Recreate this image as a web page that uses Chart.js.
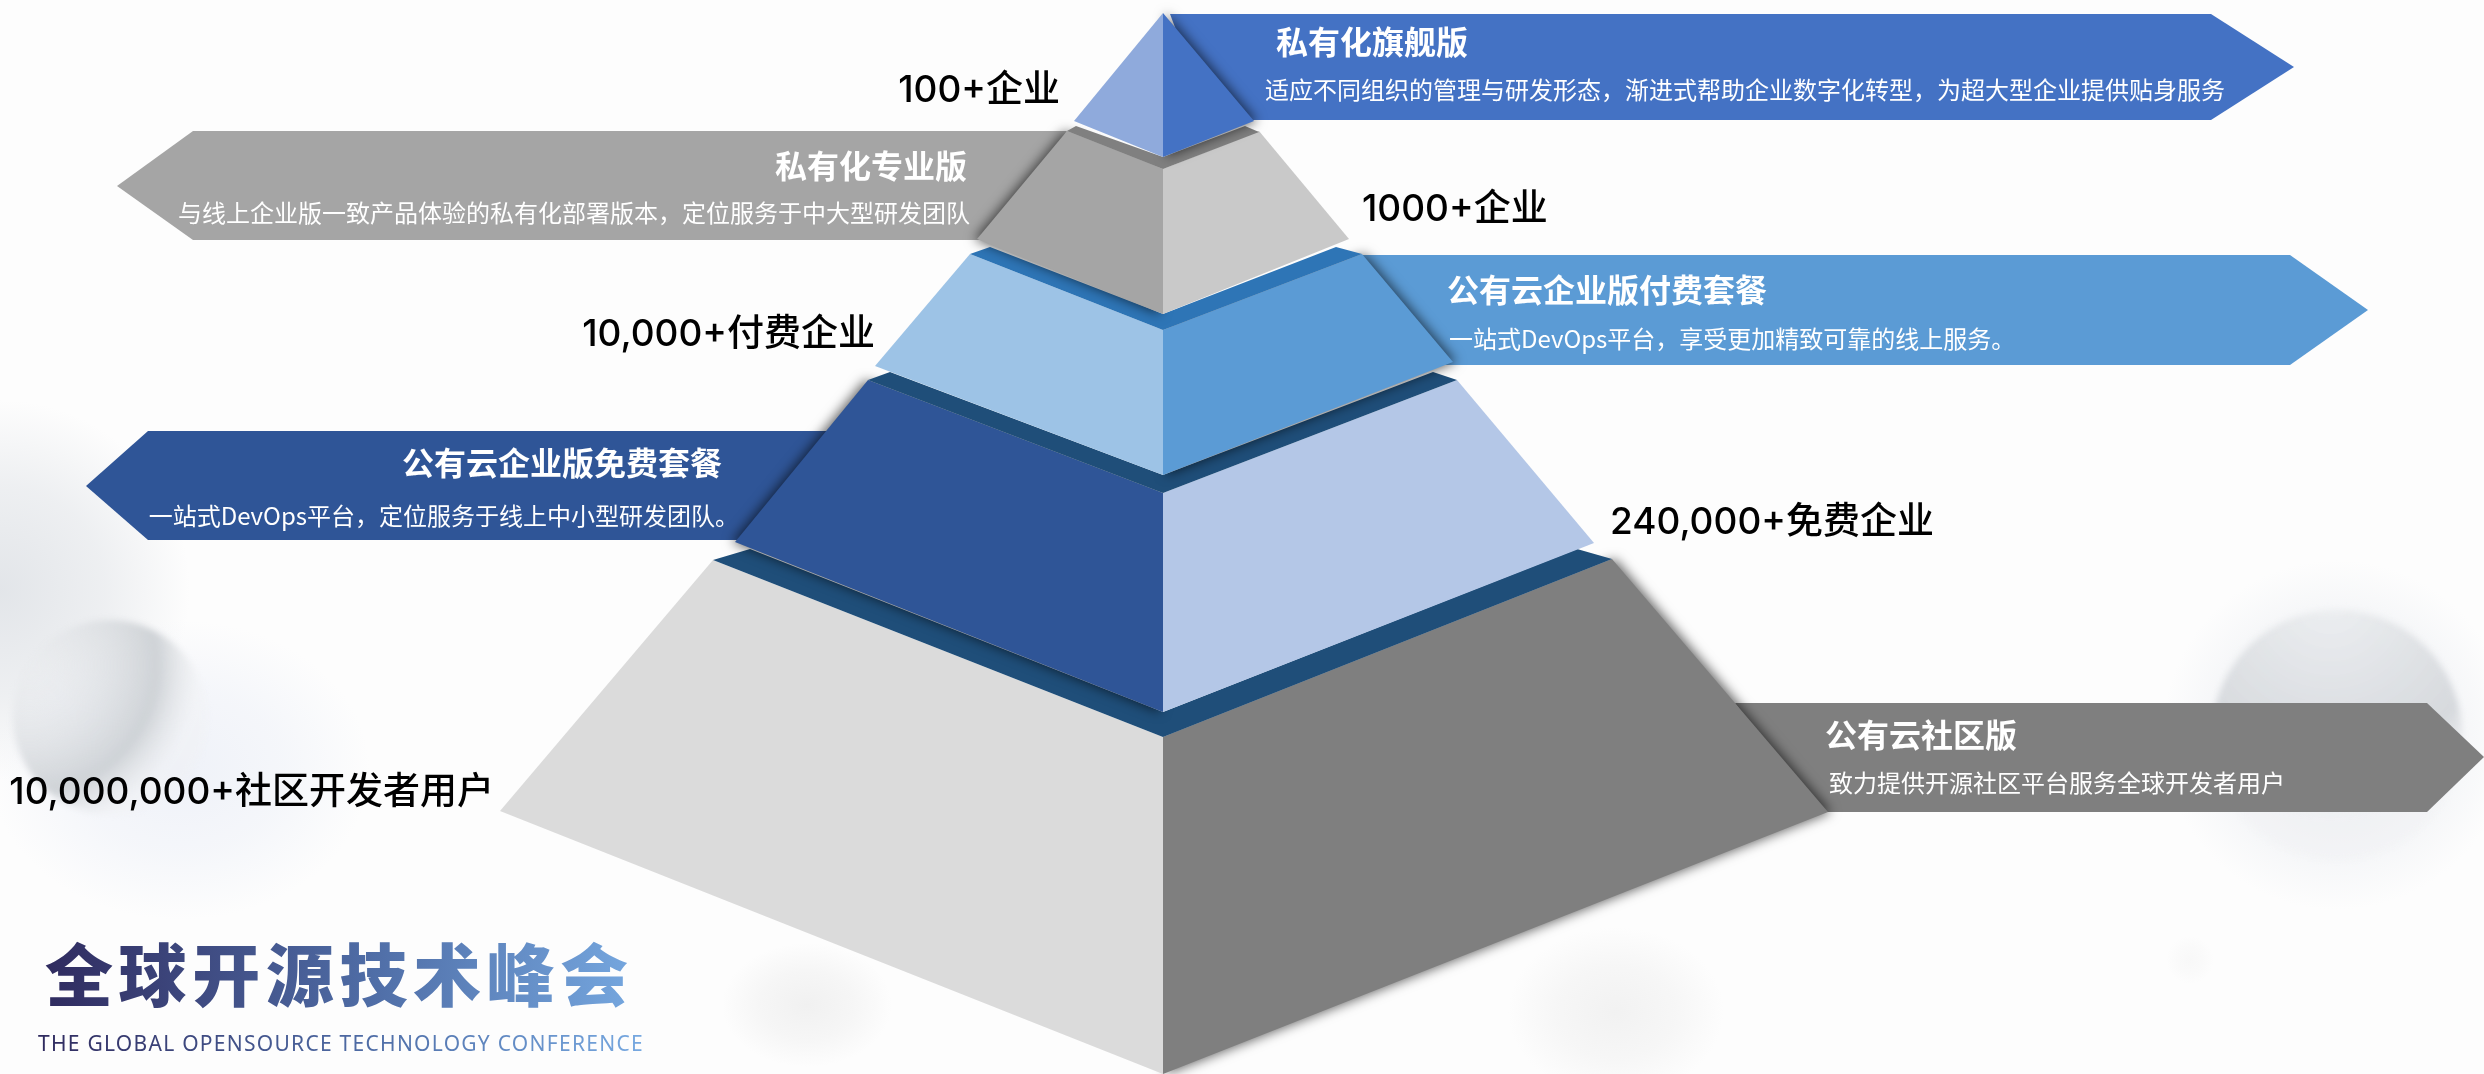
<!DOCTYPE html>
<html>
<head>
<meta charset="utf-8">
<title>全球开源技术峰会</title>
<script src="https://cdn.jsdelivr.net/npm/chart.js@4"></script>
<style>
  html, body { margin: 0; padding: 0; background: #fdfdfd; overflow: hidden; }
  canvas { display: block; }
</style>
</head>
<body>
<canvas id="myChart" width="2484" height="1074"></canvas>
<script>
// pyramid faces, top tier first, [x, y] in picture units
const tier1Left = [[1163, 13], [1074, 121], [1163, 157]];
const tier1Right = [[1163, 13], [1254, 121], [1163, 157]];
const band1 = [[1076, 126], [1067, 131], [1163, 169], [1259, 132], [1245, 126], [1163, 157]];
const tier2Right = [[1163, 169], [1259, 131], [1349, 239], [1163, 314]];
const tier2Left = [[1163, 169], [1067, 131], [977, 239], [1163, 314]];
const band2 = [[990, 247], [970, 254], [1163, 330], [1362, 254], [1336, 247], [1163, 314]];
const tier3Left = [[1163, 330], [970, 254], [875, 366], [1163, 475]];
const tier3Right = [[1163, 330], [1362, 254], [1453, 362], [1163, 475]];
const band3 = [[890, 372], [868, 380], [1163, 493], [1457, 380], [1433, 372], [1163, 475]];
const tier4Right = [[1163, 493], [1457, 380], [1594, 543], [1163, 712]];
const tier4Left = [[1163, 493], [868, 380], [735, 542], [1163, 712]];
const band4 = [[750, 549], [713, 560], [1163, 737], [1612, 559], [1577, 549], [1163, 712]];
const tier5Left = [[1163, 737], [713, 560], [500, 811], [1163, 1074]];
const tier5Right = [[1163, 737], [1612, 559], [1828, 812], [1163, 1074]];

// ribbons behind the pyramid
const ribbon1 = [[1170, 14], [2211, 14], [2294, 67], [2211, 120], [1210, 120]];
const ribbon2 = [[1067, 131], [193, 131], [117, 186], [193, 240], [1000, 240]];
const ribbon3 = [[1360, 255], [2290, 255], [2368, 310], [2290, 365], [1440, 365]];
const ribbon4 = [[835, 431], [148, 431], [86, 486], [148, 540], [760, 540]];
const ribbon5 = [[1735, 703], [2427, 703], [2484, 757], [2427, 812], [1815, 812]];

const shapes = [
  tier1Left, tier1Right, band1,
  tier2Right, tier2Left, band2,
  tier3Left, tier3Right, band3,
  tier4Right, tier4Left, band4,
  tier5Left, tier5Right,
  ribbon1, ribbon2, ribbon3, ribbon4, ribbon5
];
const shapeColors = [
  "#8faadc", "#4472c4", "#808080",
  "#c9c9c9", "#a5a5a5", "#2e75b6",
  "#9dc3e6", "#5b9bd5", "#1f4e79",
  "#b4c7e7", "#2f5597", "#1f4e79",
  "#dbdbdb", "#7f7f7f",
  "#4472c4", "#a5a5a5", "#5b9bd5", "#2f5597", "#7f7f7f"
];
// horizontal shadow direction, 0 = no shadow
const shapeShadows = [0, 1, 0, 0, -1, 0, 0, 1, 0, 0, -1, 0, 0, 1, 0, 0, 0, 0, 0];

const headings = ["私有化旗舰版", "私有化专业版", "公有云企业版付费套餐", "公有云企业版免费套餐", "公有云社区版"];
const headingPos = [[1276, 42, "left"], [967, 166, "right"], [1447, 290, "left"], [722, 463, "right"], [1825, 735, "left"]];
const details = [
  "适应不同组织的管理与研发形态，渐进式帮助企业数字化转型，为超大型企业提供贴身服务",
  "与线上企业版一致产品体验的私有化部署版本，定位服务于中大型研发团队",
  "一站式DevOps平台，享受更加精致可靠的线上服务。",
  "一站式DevOps平台，定位服务于线上中小型研发团队。",
  "致力提供开源社区平台服务全球开发者用户"
];
const detailPos = [[1265, 90, "left"], [970, 213, "right"], [1449, 339, "left"], [739, 516, "right"], [1829, 783, "left"]];
const counts = ["100+企业", "1000+企业", "10,000+付费企业", "240,000+免费企业", "10,000,000+社区开发者用户"];
const countPos = [[1060, 91, "right"], [1362, 210, "left"], [875, 335, "right"], [1610, 523, "left"], [494, 793, "right"]];

const logoTitle = "全球开源技术峰会";
const logoSub = "THE GLOBAL OPENSOURCE TECHNOLOGY CONFERENCE";

// soft patches in the backdrop: x, y, x radius, y radius, colour
const blobs = [
  [0, 590, 190, 190, "225,228,232"],
  [2337, 735, 175, 175, "232,235,240"],
  [180, 770, 190, 150, "238,241,248"],
  [807, 1005, 85, 62, "240,240,240"],
  [1616, 1012, 108, 85, "241,241,241"],
  [2190, 960, 24, 24, "248,248,248"]
];
// the two spheres: x, y, radius, light spot x, y, lit colour, shaded colour
const spheres = [
  [110, 717, 97, 30, 665, "rgba(230,232,235,0.1)", "rgba(204,208,212,0.95)"],
  [2337, 735, 125, 2330, 600, "rgba(236,238,240,0.9)", "rgba(212,215,219,0.95)"]
];

const CJK = '"Noto Sans CJK SC", "Noto Sans", sans-serif';

const backdrop = {
  id: "backdrop",
  beforeDraw(chart) {
    const { ctx, width, height } = chart;
    ctx.save();
    ctx.fillStyle = "#fdfdfd";
    ctx.fillRect(0, 0, width, height);
    blobs.forEach(([x, y, rx, ry, c]) => {
      ctx.save();
      ctx.translate(x, y);
      ctx.scale(rx, ry);
      const g = ctx.createRadialGradient(0, 0, 0, 0, 0, 1);
      g.addColorStop(0, `rgba(${c},0.95)`);
      g.addColorStop(0.55, `rgba(${c},0.55)`);
      g.addColorStop(1, `rgba(${c},0)`);
      ctx.fillStyle = g;
      ctx.beginPath();
      ctx.arc(0, 0, 1, 0, Math.PI * 2);
      ctx.fill();
      ctx.restore();
    });
    spheres.forEach(([x, y, r, lx, ly, lit, shaded]) => {
      const g = ctx.createRadialGradient(lx, ly, 0, lx, ly, r * 1.75);
      g.addColorStop(0, lit);
      g.addColorStop(0.75, shaded);
      g.addColorStop(1, "rgba(240,241,243,0.4)");
      ctx.save();
      ctx.filter = "blur(3px)";
      ctx.fillStyle = g;
      ctx.beginPath();
      ctx.arc(x, y, r, 0, Math.PI * 2);
      ctx.fill();
      ctx.restore();
    });
    ctx.restore();
  }
};

// fills each dataset as a closed shape from the points the scales placed
const faces = {
  id: "faces",
  beforeDatasetDraw(chart, args) {
    const ds = chart.data.datasets[args.index];
    const pts = args.meta.data;
    const ctx = chart.ctx;
    ctx.save();
    if (ds.shadowDir) {
      ctx.shadowColor = "rgba(0,0,0,0.6)";
      ctx.shadowBlur = 12;
      ctx.shadowOffsetX = ds.shadowDir * 3;
      ctx.shadowOffsetY = 0;
    }
    ctx.fillStyle = ds.backgroundColor;
    ctx.beginPath();
    pts.forEach((p, i) => (i ? ctx.lineTo(p.x, p.y) : ctx.moveTo(p.x, p.y)));
    ctx.closePath();
    ctx.fill();
    ctx.restore();
  }
};

function put(chart, text, pos, font, color) {
  const ctx = chart.ctx;
  ctx.font = font;
  ctx.fillStyle = color;
  ctx.textAlign = pos[2];
  ctx.textBaseline = "middle";
  ctx.fillText(text, chart.scales.x.getPixelForValue(pos[0]), chart.scales.y.getPixelForValue(pos[1]));
}

const labels = {
  id: "labels",
  afterDatasetsDraw(chart) {
    const ctx = chart.ctx;
    ctx.save();
    headings.forEach((t, i) => put(chart, t, headingPos[i], "700 32px " + CJK, "#ffffff"));
    details.forEach((t, i) => put(chart, t, detailPos[i], "400 24px " + CJK, "#ffffff"));
    counts.forEach((t, i) => put(chart, t, countPos[i], '500 37px Inter, ' + CJK, "#000000"));

    const grad = ctx.createLinearGradient(40, 0, 640, 0);
    grad.addColorStop(0, "#2f2a5e");
    grad.addColorStop(0.55, "#4f6da6");
    grad.addColorStop(1, "#76a8e0");
    ctx.letterSpacing = "5.6px";
    put(chart, logoTitle, [45, 975, "left"], "900 68px " + CJK, grad);
    ctx.letterSpacing = "1.27px";
    put(chart, logoSub, [38, 1045, "left"], '400 21px "Noto Sans", sans-serif', grad);
    ctx.restore();
  }
};

const config = {
  type: "scatter",
  data: {
    datasets: shapes.map((pts, i) => ({
      data: pts.map(([x, y]) => ({ x, y })),
      backgroundColor: shapeColors[i],
      shadowDir: shapeShadows[i],
      showLine: false,
      pointRadius: 0,
      pointHoverRadius: 0
    }))
  },
  options: {
    responsive: false,
    animation: false,
    events: [],
    layout: { padding: 0 },
    plugins: { legend: { display: false }, title: { display: false }, tooltip: { enabled: false } },
    scales: {
      x: { type: "linear", min: 0, max: 2484, display: false },
      y: { type: "linear", min: 0, max: 1074, reverse: true, display: false }
    }
  },
  plugins: [backdrop, faces, labels]
};

const ctx = document.getElementById("myChart").getContext("2d");
const myChart = new Chart(ctx, config);
</script>
</body>
</html>
